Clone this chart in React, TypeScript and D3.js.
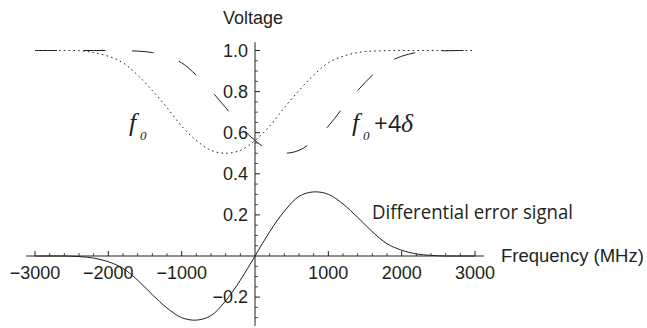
import React from "react";
import * as d3 from "d3";

const freqs = [-3000, -2800, -2600, -2400, -2200, -2000, -1800, -1600, -1400, -1200, -1000, -800, -600, -400, -200, 0, 200, 400, 600, 800, 1000, 1200, 1400, 1600, 1800, 2000, 2200, 2400, 2600, 2800, 3000];

// f0 resonance (dotted)
const f0Values = [1.0, 1.0, 1.0, 0.999, 0.99, 0.972, 0.94, 0.88, 0.805, 0.722, 0.632, 0.562, 0.514, 0.5, 0.514, 0.562, 0.632, 0.722, 0.805, 0.88, 0.94, 0.972, 0.99, 0.997, 0.999, 1.0, 1.0, 1.0, 1.0, 1.0, 1.0];

// f0 + 4δ resonance (dashed)
const f0PlusValues = [1.0, 1.0, 1.0, 1.0, 1.0, 1.0, 0.999, 0.997, 0.99, 0.972, 0.94, 0.88, 0.805, 0.722, 0.632, 0.562, 0.514, 0.5, 0.514, 0.562, 0.632, 0.722, 0.805, 0.88, 0.94, 0.972, 0.99, 0.997, 0.999, 1.0, 1.0];

// differential error signal (solid)
const diffValues = [0, 0, 0, -0.003, -0.01, -0.028, -0.06, -0.118, -0.188, -0.253, -0.3, -0.312, -0.29, -0.218, -0.118, 0, 0.118, 0.218, 0.29, 0.312, 0.3, 0.253, 0.188, 0.118, 0.06, 0.028, 0.01, 0.003, 0, 0, 0];

const xMajorTicks = [-3000, -2000, -1000, 1000, 2000, 3000];
const xTickLabels = ["\u22123000", "\u22122000", "\u22121000", "1000", "2000", "3000"];
const yMajorTicks = [-0.2, 0.2, 0.4, 0.6, 0.8, 1.0];
const yTickLabels = ["\u22120.2", "0.2", "0.4", "0.6", "0.8", "1.0"];

const INK = "#231f20";

export default function App() {
  const x = d3.scaleLinear().domain([-3000, 3000]).range([35, 475]);
  const y = d3.scaleLinear().domain([0, 1]).range([256, 50.5]);

  const line = (vals: number[]) =>
    d3
      .line<number>()
      .x((_, i) => x(freqs[i]))
      .y((v) => y(v))
      .curve(d3.curveCatmullRom.alpha(0.5))(vals) || "";

  const xMinor = d3.range(-3000, 3001, 200).filter((v) => v !== 0 && v % 1000 !== 0);
  const yMinor = d3.range(-0.3, 1.001, 0.05).filter((v) => Math.abs(v) > 1e-6 && Math.abs(Math.round(v * 5) - v * 5) > 1e-6);

  const sans = "'Liberation Sans', Arial, sans-serif";
  const humanist = "'Open Sans', 'Noto Sans', sans-serif";
  const serif = "'Liberation Serif', 'Times New Roman', serif";

  return (
    <svg width={647} height={328} style={{ position: "absolute", left: 0, top: 0, background: "#fff" }}>
      {/* axes */}
      <line x1={x(-3120)} x2={x(3120)} y1={y(0)} y2={y(0)} stroke={INK} strokeWidth={1} />
      <line x1={x(0)} x2={x(0)} y1={y(1.04)} y2={y(-0.34)} stroke={INK} strokeWidth={1} />

      {/* x ticks */}
      {xMajorTicks.map((t) => (
        <line key={"xM" + t} x1={x(t)} x2={x(t)} y1={y(0)} y2={y(0) - 5} stroke={INK} strokeWidth={1} />
      ))}
      {xMinor.map((t) => (
        <line key={"xm" + t} x1={x(t)} x2={x(t)} y1={y(0)} y2={y(0) - 3} stroke={INK} strokeWidth={0.8} />
      ))}
      {xMajorTicks.map((t, i) => (
        <text key={"xl" + t} x={x(t)} y={279} textAnchor="middle" fontFamily={sans} fontSize={18} fill={INK}>
          {xTickLabels[i]}
        </text>
      ))}

      {/* y ticks */}
      {yMajorTicks.map((t) => (
        <line key={"yM" + t} x1={x(0)} x2={x(0) + 5} y1={y(t)} y2={y(t)} stroke={INK} strokeWidth={1} />
      ))}
      {yMinor.map((t) => (
        <line key={"ym" + t.toFixed(2)} x1={x(0)} x2={x(0) + 3} y1={y(t)} y2={y(t)} stroke={INK} strokeWidth={0.8} />
      ))}
      {yMajorTicks.map((t, i) => (
        <text key={"yl" + t} x={248} y={y(t)} dy="0.35em" textAnchor="end" fontFamily={sans} fontSize={18} fill={INK}>
          {yTickLabels[i]}
        </text>
      ))}

      {/* curves */}
      <path d={line(f0Values)} fill="none" stroke={INK} strokeWidth={1} strokeDasharray="1.6,3.2" />
      <path d={line(f0PlusValues)} fill="none" stroke={INK} strokeWidth={1} strokeDasharray="22,26.5" />
      <path d={line(diffValues)} fill="none" stroke={INK} strokeWidth={1} />

      {/* axis labels */}
      <text x={223} y={24} fontFamily={sans} fontSize={18} fill={INK}>Voltage</text>
      <text x={501} y={262} fontFamily={sans} fontSize={18.5} fill={INK}>Frequency (MHz)</text>

      {/* annotations */}
      <text x={372} y={219} fontFamily={humanist} fontSize={20} textLength={201} lengthAdjust="spacingAndGlyphs" fill={INK}>
        Differential error signal
      </text>

      <text x={129} y={131} fontFamily={serif} fontStyle="italic" fontSize={26} fill={INK}>f</text>
      <text x={140} y={140} fontFamily={serif} fontStyle="italic" fontSize={13} fill={INK}>0</text>

      <text x={352} y={131} fontFamily={serif} fontStyle="italic" fontSize={26} fill={INK}>f</text>
      <text x={363} y={140} fontFamily={serif} fontStyle="italic" fontSize={13} fill={INK}>0</text>
      <text x={374} y={132} fontFamily={humanist} fontSize={24} fill={INK}>+</text>
      <text x={388} y={131.5} fontFamily={humanist} fontSize={23} fill={INK}>4</text>
      <text x={401} y={131.5} fontFamily={serif} fontStyle="italic" fontSize={26} fill={INK}>δ</text>
    </svg>
  );
}
